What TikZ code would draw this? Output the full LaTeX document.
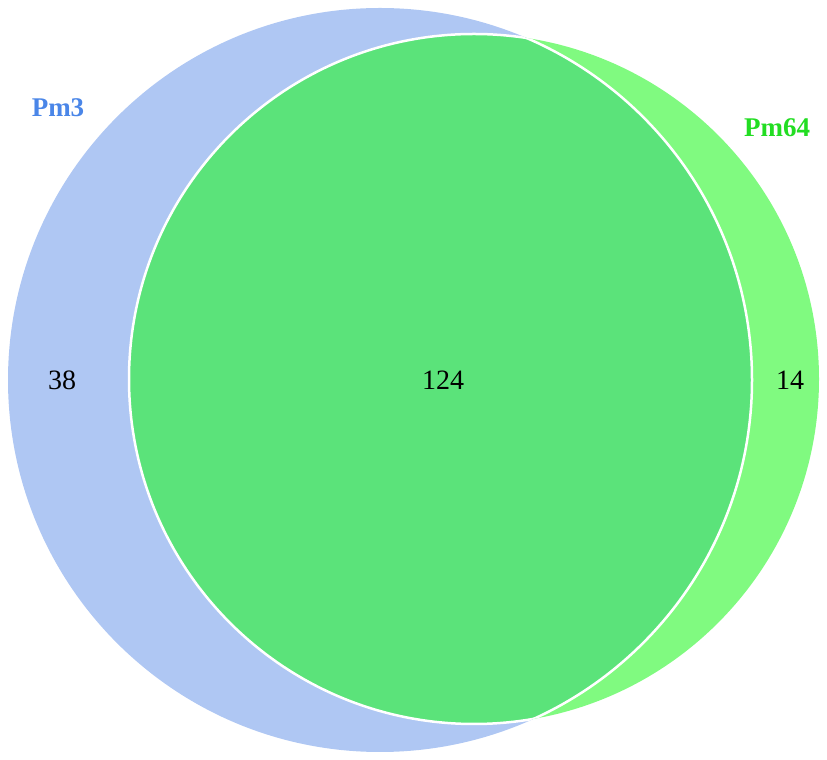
\documentclass[tikz,border=0pt]{standalone}
\usepackage{fontspec}
\setmainfont{Liberation Serif}
\definecolor{blueset}{HTML}{AFC7F3}
\definecolor{greenset}{HTML}{80FA80}
\definecolor{both}{HTML}{5BE37A}
\definecolor{bluelab}{HTML}{4A86E8}
\definecolor{greenlab}{HTML}{22DD22}
\begin{document}
\begin{tikzpicture}[x=1pt,y=1pt,
  num/.style={font=\fontsize{28}{32}\selectfont, text=black},
  setlab/.style={font=\fontsize{27}{32}\selectfont\bfseries},
  border/.style={draw=white, line width=2.5pt}]
\useasboundingbox (0,0) rectangle (827,760);
\coordinate (cb) at (380,380);
\coordinate (cg) at (474,381);
\fill[blueset] (cb) circle (372);
\fill[greenset] (cg) circle (345);
\begin{scope}
  \clip (cb) circle (372);
  \fill[both] (cg) circle (345);
  \draw[border] (cg) circle (345);
\end{scope}
\begin{scope}
  \clip (cg) circle (345);
  \draw[border] (cb) circle (372);
\end{scope}
\node[setlab, text=bluelab] (lab3) at (58,652) {Pm3};
\node[setlab, text=greenlab] (lab64) at (777,632) {Pm64};
\node[num] (n38) at (62,380) {38};
\node[num] (n124) at (443,380) {124};
\node[num] (n14) at (790,380) {14};
\end{tikzpicture}
\end{document}
